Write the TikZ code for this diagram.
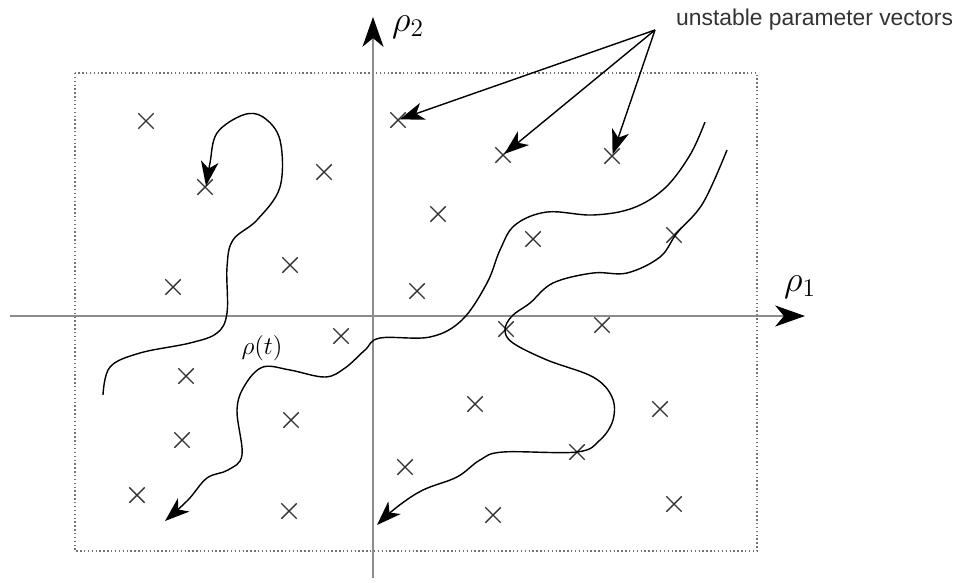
\documentclass[tikz,border=0pt]{standalone}
\usepackage{amsmath}
\usepackage{fontspec}
\usepackage{tikz}
\usetikzlibrary{arrows.meta}
\usetikzlibrary{shapes.misc}
\usetikzlibrary{positioning}
\newfontfamily\labelfont{Liberation Sans}

\begin{document}
\begin{tikzpicture}[x=0.02cm, y=-0.02cm,
    crossnode/.style={cross out, draw=black!80, line width=0.8pt, minimum size=0.28cm, inner sep=0pt},
    axisline/.style={draw=black!45, line width=0.6pt, -{Stealth[length=17pt, width=12pt, inset=5pt, color=black]}},
    pathline/.style={line width=0.8pt, -{Stealth[length=14pt, width=10pt, inset=4pt]}},
    pointer/.style={line width=0.8pt, -{Stealth[length=14pt, width=10pt, inset=4pt]}, shorten >=1pt}]
    \useasboundingbox (0,0) rectangle (954,582);

    % Region
    \draw[black!55, line width=0.8pt, dash pattern=on 0.8pt off 1.4pt] (75,73) rectangle (757,551);

    % Axes
    \coordinate (xstart) at (10,316);
    \coordinate (xend) at (805,316);
    \coordinate (ystart) at (373,578);
    \coordinate (yend) at (373,17);
    \draw[axisline] (xstart) -- (xend);
    \draw[axisline] (ystart) -- (yend);
    \node[font=\huge] (rho1) at (800,287) {$\rho_1$};
    \node[font=\huge] (rho2) at (408,27) {$\rho_2$};

    % Parameter vectors
    \foreach \p [count=\i] in {(398,120),(503,155),(612,156),(146,121),(205,187),(324,172),(438,214),(533,239),(674,235),(290,265),(173,287),(417,291),(506,329),(602,325),(341,336),(186,376),(291,420),(475,404),(660,409),(182,440),(405,467),(577,452),(137,495),(289,511),(493,515),(674,504)}
        \node[crossnode] (pt\i) at \p {};

    % Unstable ones
    \node[font=\labelfont\fontsize{13}{15}\selectfont, text=black!80, anchor=west] (unstable) at (670,20) {unstable parameter vectors};
    \coordinate[below left=0.2cm and 0.3cm of unstable.west] (src);
    \draw[pointer] (src) -- (pt1.center);
    \draw[pointer] (src) -- (pt2.center);
    \draw[pointer] (src) -- (pt3.center);

    % Trajectories
    \draw[pathline] plot[smooth, tension=0.6] coordinates {(103,395) (110,367) (140,353) (190,343) (217,333) (227,313) (227,267) (233,240) (257,220) (280,187) (280,140) (263,117) (243,115) (217,133) (210,163) (206,186)};
    \draw[pathline] plot[smooth, tension=0.6] coordinates {(705,122) (690,155) (665,188) (633,208) (593,215) (547,212) (515,225) (500,250) (487,283) (462,320) (430,337) (380,338) (365,350) (345,368) (325,377) (290,370) (263,367) (245,385) (237,410) (242,455) (228,470) (207,478) (188,500) (165,521)};
    \draw[pathline] plot[smooth, tension=0.6] coordinates {(727,150) (703,203) (677,233) (660,257) (627,273) (593,273) (553,283) (530,303) (512,316) (505,330) (513,343) (547,360) (593,377) (612,397) (613,420) (600,440) (577,452) (503,452) (480,460) (457,477) (423,490) (397,507) (377,525)};
    \node[font=\Large] (rhot) at (262,348) {$\rho(t)$};

\end{tikzpicture}
\end{document}
